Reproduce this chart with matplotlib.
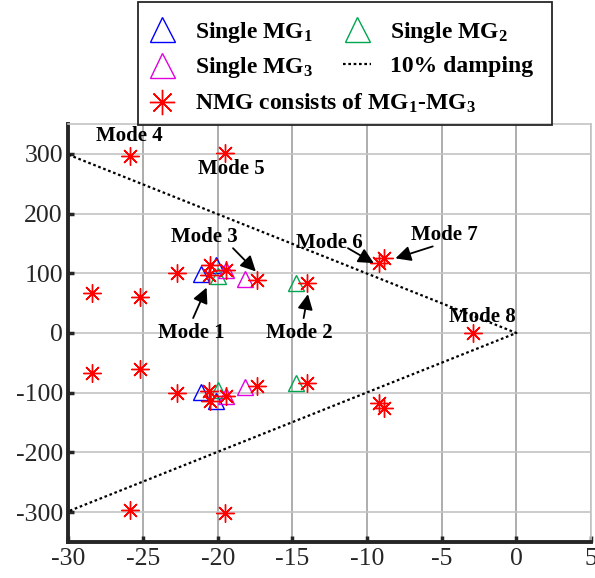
import numpy as np
import matplotlib
matplotlib.use("Agg")
import matplotlib.pyplot as plt
from matplotlib.lines import Line2D
from matplotlib.patches import Rectangle

plt.rcParams['font.family'] = ['Liberation Serif', 'DejaVu Serif']
plt.rcParams['mathtext.default'] = 'regular'
plt.rcParams['axes.unicode_minus'] = False

mg1_re = [-21.15, -20.1, -21.15, -20.1]
mg1_im = [98, 114, -98, -114]
mg2_re = [-20.0, -14.75, -20.0, -14.75]
mg2_im = [96, 83, -96, -83]
mg3_re = [-19.45, -18.15, -19.45, -18.15]
mg3_im = [106, 90, -106, -90]
nmg_re = [-25.9, -19.5, -28.4, -25.2, -22.7, -20.5, -20.6, -19.45, -17.4, -14.0, -9.2, -8.85, -2.9,
          -25.9, -19.5, -28.4, -25.2, -22.7, -20.5, -20.6, -19.45, -17.4, -14.0, -9.2, -8.85]
nmg_im = [296, 302, 67, 61, 100, 114, 97, 105, 89, 83, 117, 125, 0,
          -296, -302, -67, -61, -100, -114, -97, -105, -89, -83, -117, -125]
# 10% damping boundary
damp_re = [-30, 0, -30]
damp_im = [298.5, 0, -298.5]

# mode labels: text, label position, arrow start, arrow end (None = no arrow)
modes = [
    ('Mode 1', (-21.76, 0), (-21.65, 25), (-20.75, 76)),
    ('Mode 2', (-14.56, 0), (-14.25, 25), (-13.96, 65)),
    ('Mode 3', (-20.87, 160), (-18.98, 142), (-17.45, 103)),
    ('Mode 4', (-25.93, 330), None, None),
    ('Mode 5', (-19.08, 274), None, None),
    ('Mode 6', (-12.5, 151), (-11.28, 142), (-9.55, 117)),
    ('Mode 7', (-4.82, 164), (-5.6, 145), (-8.1, 125)),
    ('Mode 8', (-2.25, 27), None, None),
]

fig = plt.figure(figsize=(5.95, 5.78), dpi=100)
ax = fig.add_axes([0.1151, 0.0623, 0.8782, 0.7232])

tri = dict(marker='^', linestyle='none', markersize=12, markerfacecolor='none', markeredgewidth=1.0)
ax.plot(damp_re, damp_im, ':', color='k', lw=1.6, dashes=(1.2, 1.2))
h1, = ax.plot(mg1_re, mg1_im, color='#0000ff', **tri)
h2, = ax.plot(mg2_re, mg2_im, color='#00a651', **tri)
h3, = ax.plot(mg3_re, mg3_im, color='#e000e0', **tri)
h4, = ax.plot(nmg_re, nmg_im, marker=(8, 2, 0), linestyle='none', color='#ff0000',
              markersize=13, markeredgewidth=1.0)

for txt, pos, start, end in modes:
    ax.text(pos[0], pos[1], txt, fontsize=15, fontweight='bold', ha='center', va='center')
    if start is not None:
        ax.annotate('', xy=end, xytext=start,
                    arrowprops=dict(arrowstyle='-|>', color='k', lw=1.3,
                                    mutation_scale=23, shrinkA=0, shrinkB=0))

ax.set_xlim(-30, 5)
ax.set_ylim(-350, 350)
ax.set_xticks(np.arange(-30, 6, 5))
ax.set_yticks(np.arange(-300, 301, 100))
ax.xaxis.grid(True, color='#a0a0a0', lw=1.2)
ax.yaxis.grid(True, color='#c4c4c4', lw=1.2)
ax.set_axisbelow(True)
ax.tick_params(direction='in', length=4, width=2.5, color='#262626',
               labelsize=18.5, labelcolor='#262626', pad=4)
for s in ['left', 'bottom']:
    ax.spines[s].set_linewidth(2.8)
    ax.spines[s].set_color('#262626')
for s in ['top', 'right']:
    ax.spines[s].set_linewidth(1.2)
    ax.spines[s].set_color('#c4c4c4')

# legend box above the axes
fig.patches.append(Rectangle((0.2319, 0.7837), 0.6958, 0.2128, transform=fig.transFigure,
                             fill=False, edgecolor='#262626', lw=1.3, zorder=5))
dline = Line2D([], [], color='k', linestyle=':', lw=1.6, dashes=(1.2, 1.2))
fig.legend([h1, h3, h2, dline],
           ['Single MG$_1$', 'Single MG$_3$', 'Single MG$_2$', '10% damping'],
           ncol=2, loc='upper left', bbox_to_anchor=(0.2482, 0.966), frameon=False,
           borderpad=0, borderaxespad=0, handlelength=1.2, handletextpad=0.8,
           columnspacing=1.25, labelspacing=0.45, markerscale=1.5,
           prop=dict(family='Liberation Serif', weight='bold', size=17))
fig.legend([h4], ['NMG consists of MG$_1$-MG$_3$'],
           loc='upper left', bbox_to_anchor=(0.2482, 0.841), frameon=False,
           borderpad=0, borderaxespad=0, handlelength=1.2, handletextpad=0.8,
           markerscale=1.4,
           prop=dict(family='Liberation Serif', weight='bold', size=17))

fig.savefig('out.png', dpi=100)
